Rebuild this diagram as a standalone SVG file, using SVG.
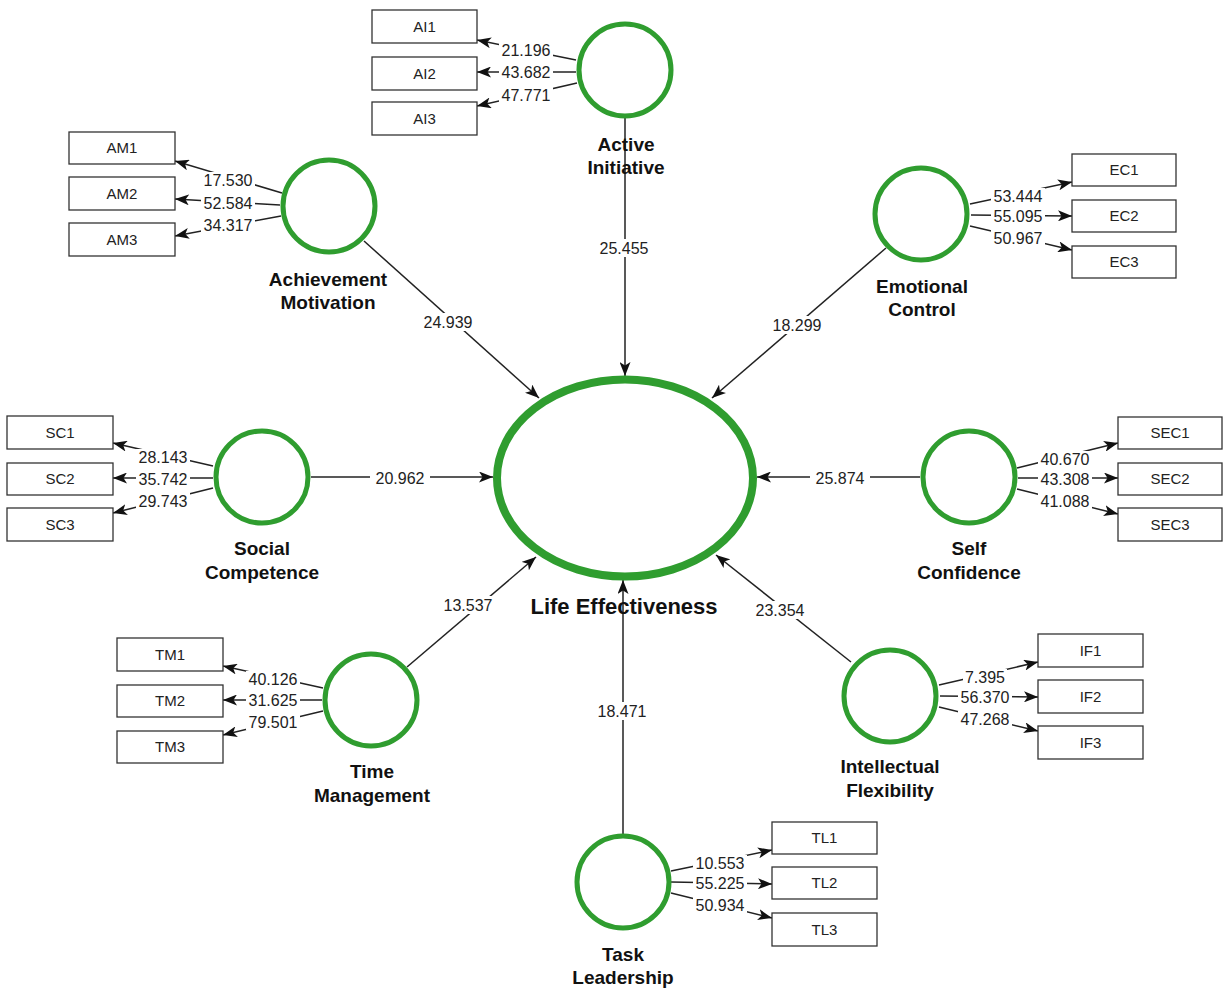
<svg xmlns="http://www.w3.org/2000/svg" width="1225" height="990" viewBox="0 0 1225 990">
<defs>
<marker id="arr" viewBox="0 0 14 11" refX="14" refY="5.5" markerWidth="14" markerHeight="11" markerUnits="userSpaceOnUse" orient="auto">
<path d="M0,0 L14,5.5 L0,11 L3.5,5.5 z" fill="#111"/>
</marker>
<style>
.ln{stroke:#222;stroke-width:1.5;fill:none;marker-end:url(#arr)}
.lv{stroke:#2f9d2f;stroke-width:5;fill:#fff}
.bx{fill:#fff;stroke:#333;stroke-width:1.3}
.bg{fill:#fff}
.bt{font-family:"Liberation Sans",Arial,sans-serif;font-size:15px;fill:#222;text-anchor:middle}
.num{font-family:"Liberation Sans",Arial,sans-serif;font-size:16px;fill:#222;text-anchor:middle}
.nm{font-family:"Liberation Sans",Arial,sans-serif;font-size:19px;font-weight:bold;fill:#111;text-anchor:middle}
</style>
</defs>
<rect width="1225" height="990" fill="#fff"/>

<g id="connectors">
<!-- structural paths -->
<line class="ln" x1="625" y1="118" x2="625" y2="376"/>
<line class="ln" x1="364" y1="241" x2="539" y2="398"/>
<line class="ln" x1="886" y1="248" x2="712" y2="398"/>
<line class="ln" x1="311" y1="477" x2="493" y2="477"/>
<line class="ln" x1="920" y1="477" x2="757" y2="477"/>
<line class="ln" x1="407" y1="667" x2="536" y2="557"/>
<line class="ln" x1="851" y1="662" x2="716" y2="555"/>
<line class="ln" x1="623" y1="834" x2="623" y2="580"/>
<!-- AI indicators -->
<line class="ln" x1="576" y1="60" x2="477" y2="40"/>
<line class="ln" x1="576" y1="72" x2="477" y2="72"/>
<line class="ln" x1="577" y1="83" x2="477" y2="106"/>
<!-- AM indicators -->
<line class="ln" x1="282" y1="193" x2="175" y2="161"/>
<line class="ln" x1="280" y1="205" x2="175" y2="199"/>
<line class="ln" x1="281" y1="216" x2="175" y2="236"/>
<!-- EC indicators -->
<line class="ln" x1="970" y1="204" x2="1072" y2="182"/>
<line class="ln" x1="971" y1="215" x2="1072" y2="216"/>
<line class="ln" x1="970" y1="226" x2="1072" y2="250"/>
<!-- SC indicators -->
<line class="ln" x1="213" y1="466" x2="113" y2="443"/>
<line class="ln" x1="213" y1="478" x2="113" y2="478"/>
<line class="ln" x1="213" y1="488" x2="113" y2="513"/>
<!-- SEC indicators -->
<line class="ln" x1="1017" y1="468" x2="1118" y2="443"/>
<line class="ln" x1="1018" y1="478" x2="1118" y2="478"/>
<line class="ln" x1="1017" y1="489" x2="1118" y2="514"/>
<!-- TM indicators -->
<line class="ln" x1="323" y1="688" x2="223" y2="666"/>
<line class="ln" x1="322" y1="700" x2="223" y2="700"/>
<line class="ln" x1="323" y1="711" x2="223" y2="735"/>
<!-- IF indicators -->
<line class="ln" x1="939" y1="685" x2="1038" y2="662"/>
<line class="ln" x1="940" y1="696" x2="1038" y2="697"/>
<line class="ln" x1="939" y1="707" x2="1038" y2="731"/>
<!-- TL indicators -->
<line class="ln" x1="671" y1="871" x2="772" y2="850"/>
<line class="ln" x1="671" y1="882" x2="772" y2="884"/>
<line class="ln" x1="671" y1="893" x2="772" y2="918"/>

<!-- path coefficients -->
<rect class="bg" x="594" y="239" width="60" height="18"/><text class="num" x="624" y="254">25.455</text>
<rect class="bg" x="418" y="313" width="60" height="18"/><text class="num" x="448" y="328">24.939</text>
<rect class="bg" x="767" y="316" width="60" height="18"/><text class="num" x="797" y="331">18.299</text>
<rect class="bg" x="370" y="469" width="60" height="18"/><text class="num" x="400" y="484">20.962</text>
<rect class="bg" x="810" y="469" width="60" height="18"/><text class="num" x="840" y="484">25.874</text>
<rect class="bg" x="438" y="596" width="60" height="18"/><text class="num" x="468" y="611">13.537</text>
<rect class="bg" x="750" y="601" width="60" height="18"/><text class="num" x="780" y="616">23.354</text>
<rect class="bg" x="592" y="702" width="60" height="18"/><text class="num" x="622" y="717">18.471</text>
<!-- loadings -->
<rect class="bg" x="499" y="42" width="54" height="16"/><text class="num" x="526" y="56">21.196</text>
<rect class="bg" x="499" y="64" width="54" height="16"/><text class="num" x="526" y="78">43.682</text>
<rect class="bg" x="499" y="87" width="54" height="16"/><text class="num" x="526" y="101">47.771</text>
<rect class="bg" x="201" y="172" width="54" height="16"/><text class="num" x="228" y="186">17.530</text>
<rect class="bg" x="201" y="195" width="54" height="16"/><text class="num" x="228" y="209">52.584</text>
<rect class="bg" x="201" y="217" width="54" height="16"/><text class="num" x="228" y="231">34.317</text>
<rect class="bg" x="991" y="188" width="54" height="16"/><text class="num" x="1018" y="202">53.444</text>
<rect class="bg" x="991" y="208" width="54" height="16"/><text class="num" x="1018" y="222">55.095</text>
<rect class="bg" x="991" y="230" width="54" height="16"/><text class="num" x="1018" y="244">50.967</text>
<rect class="bg" x="136" y="449" width="54" height="16"/><text class="num" x="163" y="463">28.143</text>
<rect class="bg" x="136" y="471" width="54" height="16"/><text class="num" x="163" y="485">35.742</text>
<rect class="bg" x="136" y="493" width="54" height="16"/><text class="num" x="163" y="507">29.743</text>
<rect class="bg" x="1038" y="451" width="54" height="16"/><text class="num" x="1065" y="465">40.670</text>
<rect class="bg" x="1038" y="471" width="54" height="16"/><text class="num" x="1065" y="485">43.308</text>
<rect class="bg" x="1038" y="493" width="54" height="16"/><text class="num" x="1065" y="507">41.088</text>
<rect class="bg" x="246" y="671" width="54" height="16"/><text class="num" x="273" y="685">40.126</text>
<rect class="bg" x="246" y="692" width="54" height="16"/><text class="num" x="273" y="706">31.625</text>
<rect class="bg" x="246" y="714" width="54" height="16"/><text class="num" x="273" y="728">79.501</text>
<rect class="bg" x="963" y="669" width="44" height="16"/><text class="num" x="985" y="683">7.395</text>
<rect class="bg" x="958" y="689" width="54" height="16"/><text class="num" x="985" y="703">56.370</text>
<rect class="bg" x="958" y="711" width="54" height="16"/><text class="num" x="985" y="725">47.268</text>
<rect class="bg" x="693" y="855" width="54" height="16"/><text class="num" x="720" y="869">10.553</text>
<rect class="bg" x="693" y="875" width="54" height="16"/><text class="num" x="720" y="889">55.225</text>
<rect class="bg" x="693" y="897" width="54" height="16"/><text class="num" x="720" y="911">50.934</text>
</g>

<g id="life-effectiveness">
<ellipse cx="625" cy="478" rx="128" ry="98.5" fill="none" stroke="#2f9d2f" stroke-width="8"/>
<text class="nm" x="624" y="614" style="font-size:22px">Life Effectiveness</text>
</g>

<g id="active-initiative">
<circle class="lv" cx="625" cy="70" r="46"/>
<text class="nm" x="626" y="151">Active</text>
<text class="nm" x="626" y="174">Initiative</text>
</g>
<g id="achievement-motivation">
<circle class="lv" cx="329" cy="206" r="46"/>
<text class="nm" x="328" y="286">Achievement</text>
<text class="nm" x="328" y="309">Motivation</text>
</g>
<g id="emotional-control">
<circle class="lv" cx="921" cy="214" r="46"/>
<text class="nm" x="922" y="293">Emotional</text>
<text class="nm" x="922" y="316">Control</text>
</g>
<g id="social-competence">
<circle class="lv" cx="262" cy="477" r="46"/>
<text class="nm" x="262" y="555">Social</text>
<text class="nm" x="262" y="579">Competence</text>
</g>
<g id="self-confidence">
<circle class="lv" cx="969" cy="477" r="46"/>
<text class="nm" x="969" y="555">Self</text>
<text class="nm" x="969" y="579">Confidence</text>
</g>
<g id="time-management">
<circle class="lv" cx="371" cy="700" r="46"/>
<text class="nm" x="372" y="778">Time</text>
<text class="nm" x="372" y="802">Management</text>
</g>
<g id="intellectual-flexibility">
<circle class="lv" cx="890" cy="696" r="46"/>
<text class="nm" x="890" y="773">Intellectual</text>
<text class="nm" x="890" y="797">Flexibility</text>
</g>
<g id="task-leadership">
<circle class="lv" cx="623" cy="882" r="46"/>
<text class="nm" x="623" y="961">Task</text>
<text class="nm" x="623" y="984">Leadership</text>
</g>

<g id="AI1"><rect class="bx" x="372" y="10" width="105" height="33"/><text class="bt" x="424.5" y="32">AI1</text></g>
<g id="AI2"><rect class="bx" x="372" y="57" width="105" height="33"/><text class="bt" x="424.5" y="79">AI2</text></g>
<g id="AI3"><rect class="bx" x="372" y="102" width="105" height="33"/><text class="bt" x="424.5" y="124">AI3</text></g>

<g id="AM1"><rect class="bx" x="69" y="132" width="106" height="32"/><text class="bt" x="122" y="153">AM1</text></g>
<g id="AM2"><rect class="bx" x="69" y="177" width="106" height="33"/><text class="bt" x="122" y="199">AM2</text></g>
<g id="AM3"><rect class="bx" x="69" y="223" width="106" height="33"/><text class="bt" x="122" y="245">AM3</text></g>

<g id="EC1"><rect class="bx" x="1072" y="154" width="104" height="32"/><text class="bt" x="1124" y="175">EC1</text></g>
<g id="EC2"><rect class="bx" x="1072" y="200" width="104" height="32"/><text class="bt" x="1124" y="221">EC2</text></g>
<g id="EC3"><rect class="bx" x="1072" y="246" width="104" height="32"/><text class="bt" x="1124" y="267">EC3</text></g>

<g id="SC1"><rect class="bx" x="7" y="416" width="106" height="33"/><text class="bt" x="60" y="438">SC1</text></g>
<g id="SC2"><rect class="bx" x="7" y="463" width="106" height="32"/><text class="bt" x="60" y="484">SC2</text></g>
<g id="SC3"><rect class="bx" x="7" y="508" width="106" height="33"/><text class="bt" x="60" y="530">SC3</text></g>

<g id="SEC1"><rect class="bx" x="1118" y="417" width="104" height="32"/><text class="bt" x="1170" y="438">SEC1</text></g>
<g id="SEC2"><rect class="bx" x="1118" y="463" width="104" height="32"/><text class="bt" x="1170" y="484">SEC2</text></g>
<g id="SEC3"><rect class="bx" x="1118" y="508" width="104" height="33"/><text class="bt" x="1170" y="530">SEC3</text></g>

<g id="TM1"><rect class="bx" x="117" y="638" width="106" height="33"/><text class="bt" x="170" y="660">TM1</text></g>
<g id="TM2"><rect class="bx" x="117" y="685" width="106" height="32"/><text class="bt" x="170" y="706">TM2</text></g>
<g id="TM3"><rect class="bx" x="117" y="731" width="106" height="32"/><text class="bt" x="170" y="752">TM3</text></g>

<g id="IF1"><rect class="bx" x="1038" y="634" width="105" height="33"/><text class="bt" x="1090.5" y="656">IF1</text></g>
<g id="IF2"><rect class="bx" x="1038" y="680" width="105" height="33"/><text class="bt" x="1090.5" y="702">IF2</text></g>
<g id="IF3"><rect class="bx" x="1038" y="726" width="105" height="33"/><text class="bt" x="1090.5" y="748">IF3</text></g>

<g id="TL1"><rect class="bx" x="772" y="822" width="105" height="32"/><text class="bt" x="824.5" y="843">TL1</text></g>
<g id="TL2"><rect class="bx" x="772" y="867" width="105" height="32"/><text class="bt" x="824.5" y="888">TL2</text></g>
<g id="TL3"><rect class="bx" x="772" y="913" width="105" height="33"/><text class="bt" x="824.5" y="935">TL3</text></g>
</svg>
